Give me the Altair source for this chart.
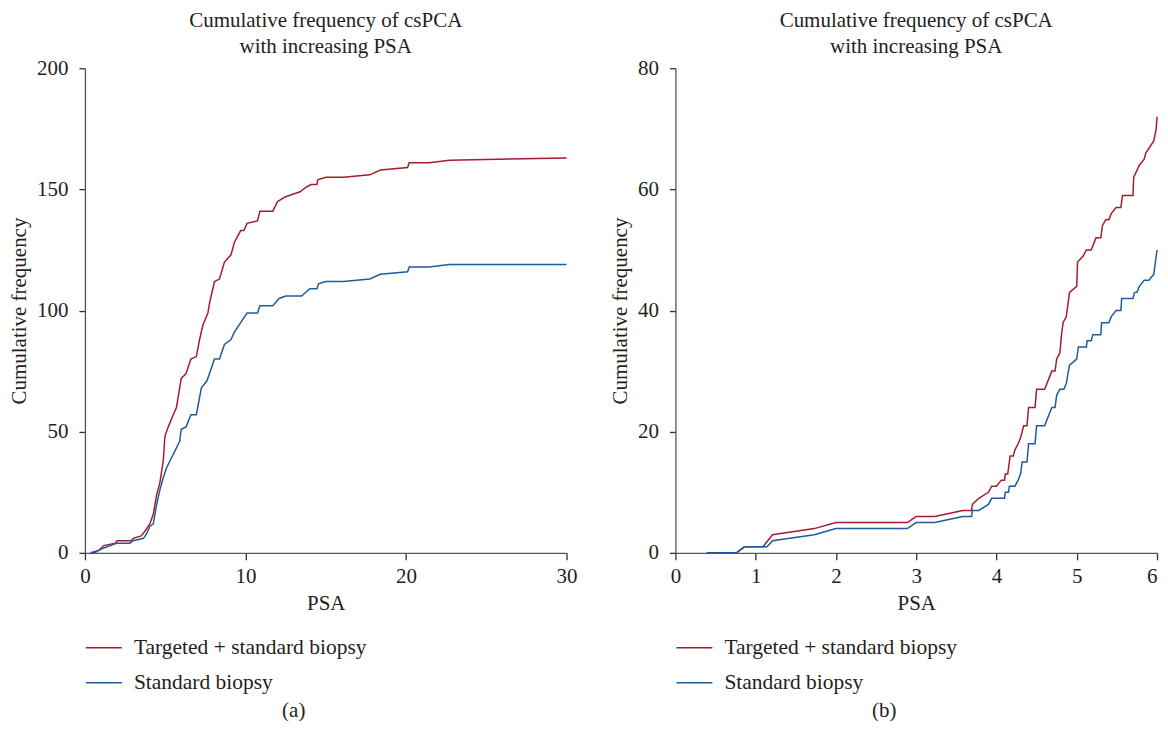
import altair as alt
import pandas as pd

# ---------------- data ----------------
series_names = ["Targeted + standard biopsy", "Standard biopsy"]
series_colors = ["#A51D2D", "#1F5C9E"]

# Panel (a): PSA 0-30
a_red_x = [0.35, 0.86, 1.17, 1.9, 2.0, 2.9, 3.0, 3.5, 3.75, 4.05, 4.26, 4.47, 4.67, 4.88, 4.98,
           5.19, 5.5, 5.7, 6.0, 6.3, 6.6, 6.94, 7.14, 7.35, 7.66, 7.76, 8.07, 8.38, 8.69, 9.1,
           9.3, 9.7, 9.9, 10.1, 10.75, 10.9, 11.7, 12.0, 12.5, 13.4, 13.8, 14.1, 14.45, 14.5,
           15.0, 16.1, 17.75, 18.4, 20.1, 20.2, 21.45, 22.7, 30.0]
a_red_y = [0, 1, 3, 4, 5, 5, 6, 7, 9, 12, 16, 24, 29, 38, 48,
           52, 57, 60, 72, 74, 80, 81, 88, 94, 99, 103, 112, 113, 120, 123,
           128, 133, 133, 136, 137, 141, 141, 145, 147, 149, 151, 152, 152, 154,
           155, 155, 156, 158, 159, 161, 161, 162, 163]

a_blue_x = [0.35, 0.6, 0.86, 1.17, 2.0, 2.8, 3.0, 3.65, 3.85, 4.05, 4.26, 4.47, 4.67, 4.88, 5.08,
            5.3, 5.6, 5.9, 6.0, 6.3, 6.6, 6.94, 7.25, 7.6, 7.76, 8.07, 8.38, 8.69, 9.1, 9.3,
            9.7, 10.1, 10.75, 10.9, 11.7, 12.1, 12.5, 13.5, 14.0, 14.45, 14.55, 15.0, 16.1,
            17.75, 18.4, 20.1, 20.2, 21.45, 22.7, 30.0]
a_blue_y = [0, 0, 1, 2, 4, 4, 5, 6, 8, 11, 12, 20, 26, 31, 35,
            38, 42, 46, 51, 52, 57, 57, 68, 71, 74, 80, 80, 86, 88, 91,
            95, 99, 99, 102, 102, 105, 106, 106, 109, 109, 111, 112, 112,
            113, 115, 116, 118, 118, 119, 119]

# Panel (b): PSA 0-6
b_red_x = [0.39, 0.76, 0.86, 1.09, 1.21, 1.73, 2.0, 2.89, 3.0, 3.23, 3.58, 3.69, 3.7, 3.78, 3.9,
           3.94, 4.0, 4.06, 4.1, 4.11, 4.14, 4.17, 4.21, 4.23, 4.27, 4.3, 4.34, 4.38, 4.4, 4.48,
           4.5, 4.6, 4.69, 4.73, 4.75, 4.79, 4.81, 4.83, 4.87, 4.91, 5.0, 5.01, 5.08, 5.12, 5.18,
           5.24, 5.3, 5.32, 5.36, 5.4, 5.43, 5.49, 5.55, 5.57, 5.7, 5.71, 5.78, 5.84, 5.86, 5.96,
           5.99, 6.0]
b_red_y = [0, 0, 1, 1, 3, 4, 5, 5, 6, 6, 7, 7, 8, 9, 10,
           11, 11, 12, 12, 13, 13, 16, 16, 17, 18, 19, 21, 21, 24, 24,
           27, 27, 30, 30, 32, 33, 36, 38, 39, 43, 44, 48, 49, 50, 50,
           52, 52, 54, 55, 55, 56, 57, 57, 59, 59, 62, 64, 65, 66, 68,
           70, 72]

b_blue_x = [0.39, 0.76, 0.86, 1.14, 1.21, 1.73, 2.0, 2.89, 3.0, 3.23, 3.58, 3.69, 3.7, 3.78, 3.9,
            3.94, 4.1, 4.11, 4.15, 4.16, 4.23, 4.27, 4.3, 4.32, 4.38, 4.4, 4.48, 4.5, 4.6, 4.69,
            4.73, 4.75, 4.79, 4.84, 4.87, 4.91, 5.0, 5.02, 5.12, 5.13, 5.18, 5.2, 5.3, 5.31, 5.4,
            5.43, 5.49, 5.55, 5.56, 5.7, 5.72, 5.75, 5.78, 5.84, 5.9, 5.96, 5.98, 6.0]
b_blue_y = [0, 0, 1, 1, 2, 3, 4, 4, 5, 5, 6, 6, 7, 7, 8,
            9, 9, 10, 10, 11, 11, 12, 13, 15, 15, 18, 18, 21, 21, 24,
            24, 26, 27, 27, 28, 31, 32, 34, 34, 35, 35, 36, 36, 38, 38,
            39, 40, 40, 42, 42, 43, 43, 44, 45, 45, 46, 48, 50]

panel_title = ["Cumulative frequency of csPCA", "with increasing PSA"]
x_title = "PSA"
y_title = "Cumulative frequency"

FONT = "Liberation Serif"
TXT = "#231F20"
PW, PH = 482, 485


def frame(xs, ys, name):
    return pd.DataFrame({"PSA": xs, "freq": ys, "series": name})


def panel(red_x, red_y, blue_x, blue_y, xmax, xstep, ymax, ystep, caption):
    color = alt.Color(
        "series:N",
        scale=alt.Scale(domain=series_names, range=series_colors),
        legend=alt.Legend(
            orient="none", legendX=0, legendY=561, title=None, direction="vertical",
            symbolType="stroke", symbolSize=1296, symbolStrokeWidth=1.5,
            labelFont=FONT, labelFontSize=21.5, labelColor=TXT, labelOffset=11,
            labelLimit=500, rowPadding=5, padding=0,
        ),
    )
    x = alt.X("PSA:Q", title=x_title,
              scale=alt.Scale(domain=[0, xmax], nice=False, zero=True),
              axis=alt.Axis(values=list(range(0, xmax + 1, xstep)), tickSize=7,
                            labelPadding=6, titlePadding=6, labelFlush=False,
                            labelAlign=alt.condition(f"datum.value == {xmax} && {xmax} == 6",
                                                     alt.value("right"), alt.value("center"))))
    y = alt.Y("freq:Q", title=y_title,
              scale=alt.Scale(domain=[0, ymax], nice=False),
              axis=alt.Axis(values=list(range(0, ymax + 1, ystep)), tickSize=6,
                            labelPadding=11, titlePadding=7, labelFlush=False))
    red = alt.Chart(frame(red_x, red_y, series_names[0])).mark_line(
        strokeWidth=1.5, interpolate="linear").encode(x=x, y=y, color=color, order="PSA:Q")
    blue = alt.Chart(frame(blue_x, blue_y, series_names[1])).mark_line(
        strokeWidth=1.5, interpolate="linear").encode(x=x, y=y, color=color, order="PSA:Q")
    cap = alt.Chart(pd.DataFrame({"t": [caption]})).mark_text(
        font=FONT, fontSize=21, color=TXT, align="center", baseline="middle"
    ).encode(text="t:N", x=alt.value(209), y=alt.value(643))
    return alt.layer(red, blue, cap).properties(
        width=PW, height=PH,
        title=alt.TitleParams(panel_title, anchor="middle", fontSize=21, lineHeight=26,
                              font=FONT, color=TXT, fontWeight="normal", offset=0),
    )


left = panel(a_red_x, a_red_y, a_blue_x, a_blue_y, 30, 10, 200, 50, "(a)")
right = panel(b_red_x, b_red_y, b_blue_x, b_blue_y, 6, 1, 80, 20, "(b)")

chart = alt.hconcat(left, right, spacing=32).resolve_legend(color="independent").resolve_scale(
    x="independent", y="independent"
).configure_axis(
    grid=False, labelFont=FONT, titleFont=FONT, labelFontSize=21, titleFontSize=21,
    labelColor=TXT, titleColor=TXT, titleFontWeight="normal",
    domainColor="#555555", tickColor="#333333", domainWidth=1.3, tickWidth=1.3,
).configure_view(stroke=None).properties(padding={"left": 0, "top": 2, "right": 0, "bottom": 0})

chart.save("out.html", embed_options={"renderer": "svg", "actions": False})
